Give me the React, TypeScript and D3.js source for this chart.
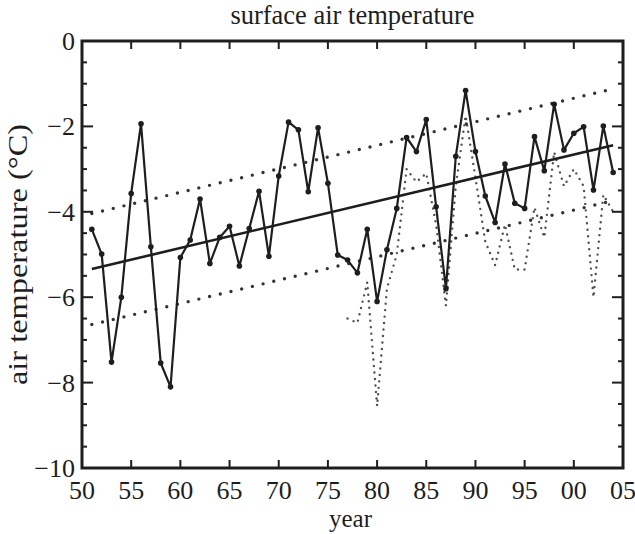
import React from "react";
import * as d3 from "d3";

const years = [1951,1952,1953,1954,1955,1956,1957,1958,1959,1960,1961,1962,1963,1964,1965,1966,1967,1968,1969,1970,1971,1972,1973,1974,1975,1976,1977,1978,1979,1980,1981,1982,1983,1984,1985,1986,1987,1988,1989,1990,1991,1992,1993,1994,1995,1996,1997,1998,1999,2000,2001,2002,2003,2004];
const temps = [-4.41,-4.99,-7.52,-6.0,-3.57,-1.94,-4.82,-7.54,-8.1,-5.07,-4.66,-3.7,-5.21,-4.6,-4.34,-5.27,-4.39,-3.52,-5.04,-3.16,-1.9,-2.08,-3.53,-2.03,-3.33,-5.01,-5.13,-5.43,-4.41,-6.1,-4.89,-3.92,-2.26,-2.59,-1.84,-3.88,-5.8,-2.7,-1.16,-2.59,-3.63,-4.25,-2.88,-3.8,-3.92,-2.24,-3.04,-1.48,-2.55,-2.16,-2.01,-3.49,-1.99,-3.08];

const years2 = [1977,1978,1979,1980,1981,1982,1983,1984,1985,1986,1987,1988,1989,1990,1991,1992,1993,1994,1995,1996,1997,1998,1999,2000,2001,2002,2003,2004];
const temps2 = [-6.5,-6.6,-5.65,-8.55,-5.8,-5.0,-3.0,-3.3,-3.1,-4.3,-6.2,-3.4,-1.75,-3.2,-4.7,-5.25,-4.3,-5.35,-5.35,-3.9,-4.6,-2.6,-3.4,-3.0,-3.4,-6.0,-3.6,-4.0];

const trendYears = [1951, 2004];
const trendMid = [-5.34, -2.44];
const trendUpper = [-4.04, -1.12];
const trendLower = [-6.64, -3.74];

const xTickValues = [1950,1955,1960,1965,1970,1975,1980,1985,1990,1995,2000,2005];
const xTickLabels = ["50","55","60","65","70","75","80","85","90","95","00","05"];
const yTickValues = [0,-2,-4,-6,-8,-10];
const yTickLabels = ["0","\u22122","\u22124","\u22126","\u22128","\u221210"];

const W = 635, H = 534;
const L = 82, R = 623, T = 41, B = 468;
const FONT = "'Liberation Serif', 'Times New Roman', serif";
const ink = "#1e1e1e";

export default function App() {
  const x = d3.scaleLinear().domain([1950, 2005]).range([L, R]);
  const y = d3.scaleLinear().domain([-10, 0]).range([B, T]);
  const line = d3.line<[number, number]>().x(d => x(d[0])).y(d => y(d[1]));
  const main: [number, number][] = years.map((yr, i) => [yr, temps[i]]);
  const second: [number, number][] = years2.map((yr, i) => [yr, temps2[i]]);
  const mk = (v: number[]) => trendYears.map((yr, i) => [yr, v[i]] as [number, number]);
  const minor = d3.range(-10, 0.001, 0.5);
  return (
    <svg width={W} height={H} style={{ position: "absolute", left: 0, top: 0, background: "#fff" }}>
      <text x={(L + R) / 2} y={24} textAnchor="middle" fontFamily={FONT} fontSize={26.5} fill={ink}>surface air temperature</text>
      <path d={line(second) || ""} fill="none" stroke="#505050" strokeWidth={2.4} strokeDasharray="0 6.5" strokeLinecap="round" />
      <path d={line(mk(trendUpper)) || ""} fill="none" stroke="#333" strokeWidth={3.4} strokeDasharray="0 11" strokeLinecap="round" />
      <path d={line(mk(trendLower)) || ""} fill="none" stroke="#333" strokeWidth={3.4} strokeDasharray="0 11" strokeLinecap="round" />
      <path d={line(mk(trendMid)) || ""} fill="none" stroke={ink} strokeWidth={2.6} />
      <path d={line(main) || ""} fill="none" stroke={ink} strokeWidth={2.2} strokeLinejoin="round" />
      {main.map((d, i) => (
        <circle key={i} cx={x(d[0])} cy={y(d[1])} r={2.8} fill={ink} />
      ))}
      {xTickValues.map((v, i) => (
        <g key={"xt" + i}>
          <line x1={x(v)} x2={x(v)} y1={B} y2={B - 8} stroke={ink} strokeWidth={2} />
          <line x1={x(v)} x2={x(v)} y1={T} y2={T + 8} stroke={ink} strokeWidth={2} />
          <text x={x(v)} y={499} textAnchor="middle" fontFamily={FONT} fontSize={26} fill={ink}>{xTickLabels[i]}</text>
        </g>
      ))}
      {minor.map((v, i) => {
        const major = Math.abs(v % 2) < 0.001;
        const len = major ? 11 : 5;
        return (
          <g key={"yt" + i}>
            <line x1={L} x2={L + len} y1={y(v)} y2={y(v)} stroke={ink} strokeWidth={2} />
            <line x1={R} x2={R - len} y1={y(v)} y2={y(v)} stroke={ink} strokeWidth={2} />
          </g>
        );
      })}
      {yTickValues.map((v, i) => (
        <text key={"yl" + i} x={75} y={y(v) + 9} textAnchor="end" fontFamily={FONT} fontSize={26} fill={ink}>{yTickLabels[i]}</text>
      ))}
      <rect x={L} y={T} width={R - L} height={B - T} fill="none" stroke={ink} strokeWidth={3} />
      <text x={(L + R) / 2 - 2} y={527} textAnchor="middle" fontFamily={FONT} fontSize={25} fill={ink}>year</text>
      <text transform={`translate(27,${(T + B) / 2}) scale(1,1.2) rotate(-90)`} textAnchor="middle" fontFamily={FONT} fontSize={27} fill={ink}>air temperature (°C)</text>
    </svg>
  );
}
